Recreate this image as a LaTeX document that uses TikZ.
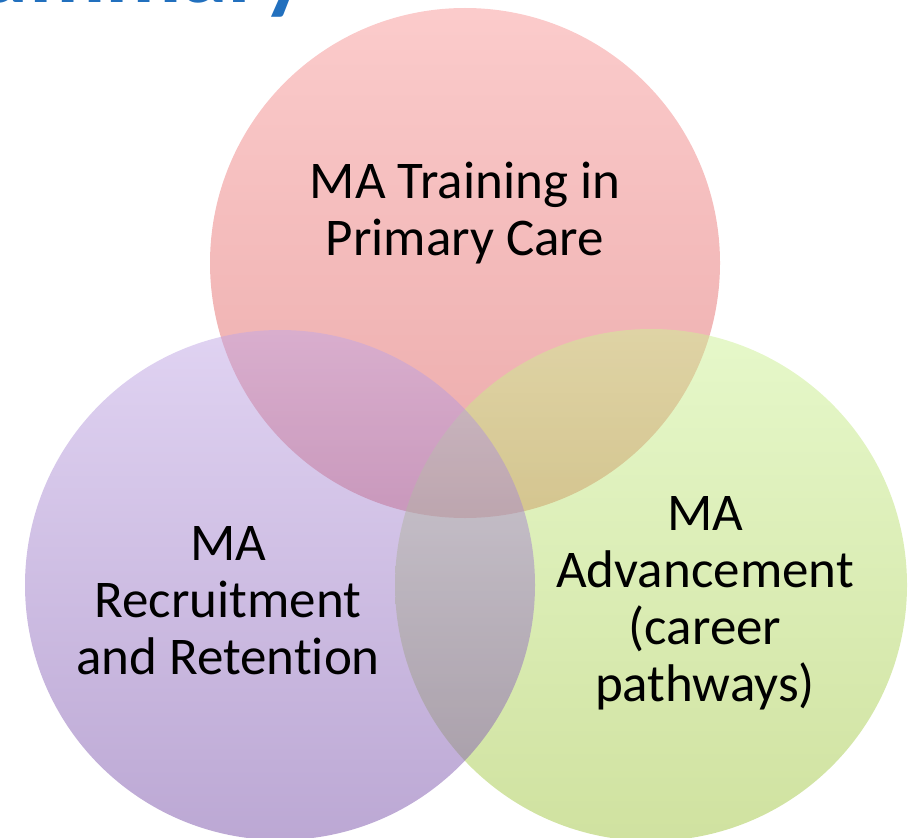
\documentclass[tikz,border=0pt]{standalone}
\usepackage{fontspec}
\setmainfont{Carlito}[Ligatures=NoCommon]
\definecolor{titleblue}{HTML}{2270BE}
\definecolor{redtop}{HTML}{F89898}
\definecolor{redbot}{HTML}{D85454}
\definecolor{purtop}{HTML}{C1A7E5}
\definecolor{purbot}{HTML}{7951A9}
\definecolor{grntop}{HTML}{CDF195}
\definecolor{grnbot}{HTML}{A1C541}
\begin{document}
\begin{tikzpicture}[x=1pt,y=-1pt,
  venn/.style={opacity=0.5},
  setlabel/.style={align=center, text=black, inner sep=0pt,
    font=\fontsize{53}{57}\selectfont}]
\useasboundingbox (0,0) rectangle (917,837);
\clip (0,0) rectangle (917,837);

% heading of the slide, mostly above the visible area
\node[anchor=base west, inner sep=0pt, text=titleblue,
  font=\fontsize{94}{100}\selectfont\bfseries] (title) at (-66pt,-3pt) {Summary};

% the three sets: training (top), advancement (right), recruitment (left)
\shade[venn, top color=redtop, bottom color=redbot]
  (465,263) circle[radius=255pt];
\shade[venn, top color=grntop, bottom color=grnbot]
  (651,585) circle[radius=256pt];
\shade[venn, top color=purtop, bottom color=purbot]
  (280,585) circle[radius=255pt];

\node[setlabel] (training) at (465,213) {MA Training in\\Primary Care};
\node[setlabel] (recruit) at (228,601) {MA\\Recruitment\\and Retention};
\node[setlabel] (advance) at (705,603) {MA\\Advancement\\(career\\pathways)};
\end{tikzpicture}
\end{document}
